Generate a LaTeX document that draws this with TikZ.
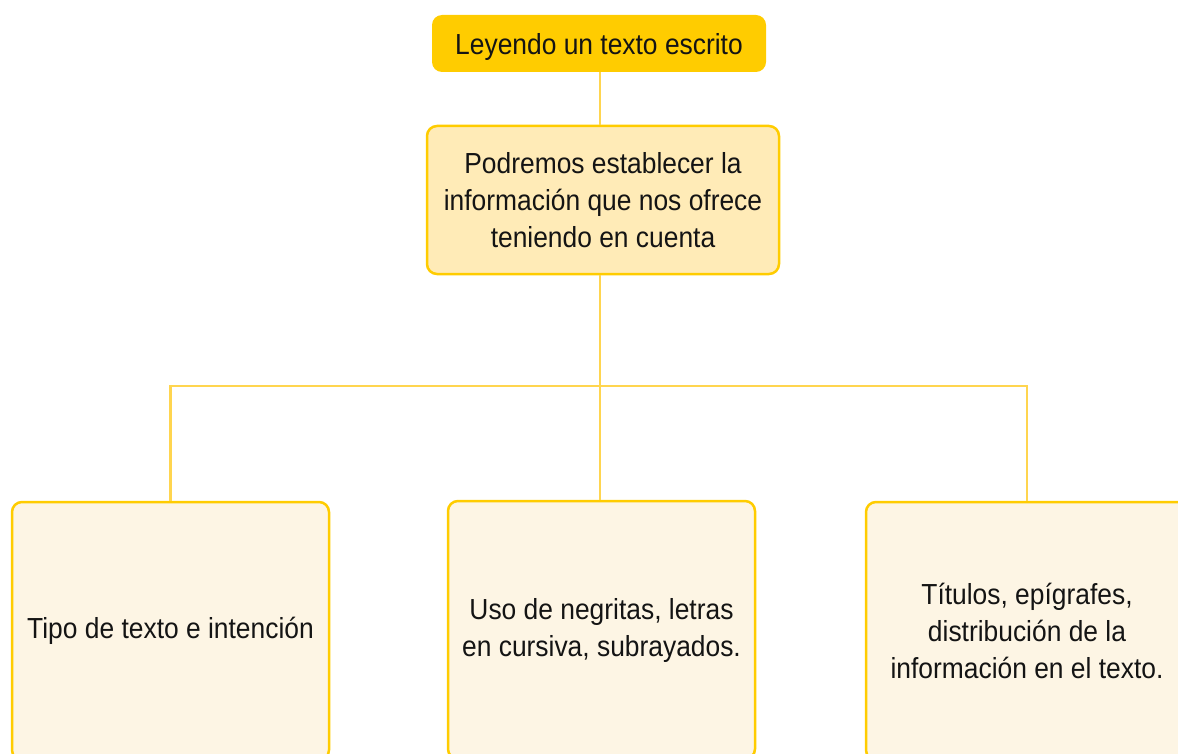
\documentclass[tikz,border=0pt]{standalone}
\usepackage{fontspec}
\setmainfont{Liberation Sans}[FakeStretch=0.91]
\usepackage{tikz}
\usetikzlibrary{positioning}
\definecolor{oro}{HTML}{FFCC00}
\definecolor{cremaoscura}{HTML}{FFEBB7}
\definecolor{crema}{HTML}{FDF5E4}
\definecolor{linea}{HTML}{FFD54F}
\definecolor{tinta}{HTML}{141414}

\begin{document}
\begin{tikzpicture}[x=1pt, y=-1pt,
    caja/.style={rounded corners=10pt, align=center, text=tinta,
        font=\fontsize{29}{37}\selectfont, inner sep=0pt},
    titulo/.style={caja, fill=oro, text depth=0pt, minimum width=334pt, minimum height=57pt},
    pregunta/.style={caja, fill=cremaoscura, draw=oro, line width=2.5pt,
        minimum width=352pt, minimum height=148pt},
    hoja/.style={caja, fill=crema, draw=oro, line width=2.5pt, minimum height=258pt},
    rama/.style={draw=linea, line width=2.5pt}]
        % 1. Page frame
        \clip (0,0) rectangle (1178,754);

        % 2. Top title and question
        \node[titulo] (leyendo) at (599,43.5) {Leyendo un texto escrito};
        \node[pregunta] (podremos) at (603,200)
            {Podremos establecer la\\información que nos ofrece\\teniendo en cuenta};

        % 3. The three leaves
        \node[hoja, minimum width=317pt] (tipo) at (170.5,631) {Tipo de texto e intención};
        \node[hoja, minimum width=307pt] (uso) at (601.5,630)
            {Uso de negritas, letras\\en cursiva, subrayados.};
        \node[hoja, minimum width=322pt] (titulos) at (1027,631)
            {Títulos, epígrafes,\\distribución de la\\información en el texto.};

        % 4. Connectors
        \coordinate (cruce) at (600,386);
        \draw[rama] (leyendo.south -| cruce) -- (podremos.north -| cruce);
        \draw[rama] (podremos.south -| cruce) -- (cruce);
        \draw[rama] (cruce) -| (tipo.north);
        \draw[rama] (cruce) -| (titulos.north);
        \draw[rama] (cruce) -- (uso.north -| cruce);
    \end{tikzpicture}
\end{document}
